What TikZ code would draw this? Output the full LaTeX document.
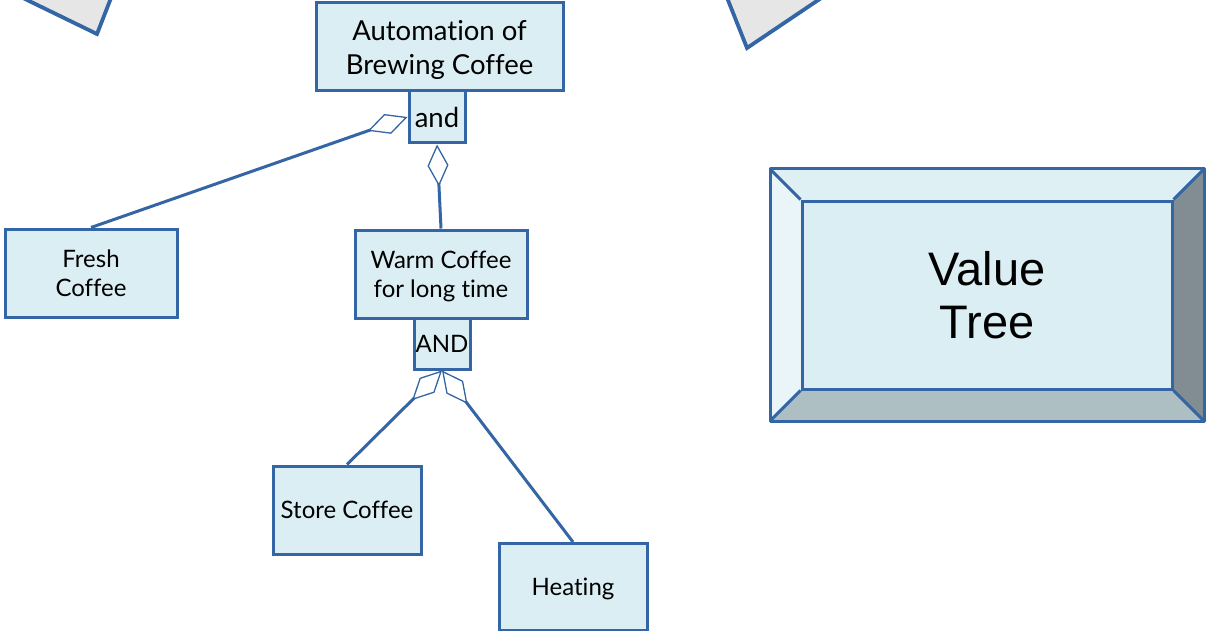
\documentclass[tikz,border=0pt]{standalone}
\usepackage{fontspec}
\setmainfont{Lato}[Ligatures={NoCommon}]
\newfontfamily\vtfont{Liberation Sans}
\usetikzlibrary{arrows.meta}
\definecolor{lineblue}{HTML}{3465A4}
\definecolor{boxfill}{HTML}{DAEEF3}
\definecolor{cornerfill}{HTML}{E6E6E6}
\definecolor{bevtop}{HTML}{DFF0F5}
\definecolor{bevleft}{HTML}{E9F5F9}
\definecolor{bevright}{HTML}{818D92}
\definecolor{bevbottom}{HTML}{ADBFC3}
\tikzset{
  goalbox/.style={draw=lineblue, fill=boxfill, line width=3pt, inner sep=0pt,
    align=center, text=black},
  bigtext/.style={font=\fontsize{27.5}{34}\selectfont},
  smalltext/.style={font=\fontsize{24}{29}\selectfont},
  conn/.style={draw=lineblue, line width=3pt,
    -{Diamond[open, length=42pt, width=21pt, line width=1.3pt]}},
  corner/.style={draw=lineblue, fill=cornerfill, line width=3.8pt, line join=miter},
  bevel/.style={draw=lineblue, line width=3pt, line join=round}
}
\begin{document}
\begin{tikzpicture}[x=1pt, y=-1pt]
\useasboundingbox (0,0) rectangle (1206,631);
\clip (0,0) rectangle (1206,631);

% partially visible corner shapes along the top edge
\path[corner] (-14,-20) -- (97,34) -- (118,-20) -- cycle;
\path[corner] (720,-20) -- (747,48) -- (848,-20) -- cycle;

% goal tree boxes
\node[goalbox, bigtext, text depth=0pt, minimum width=247pt, minimum height=88pt] (auto) at (439.5,47)
  {Automation of\\Brewing Coffee};
\node[goalbox, bigtext, minimum width=56pt, minimum height=52pt] (and) at (437,117) {and};
\node[goalbox, smalltext, minimum width=172pt, minimum height=88pt] (fresh) at (91,273)
  {Fresh\\Coffee};
\node[goalbox, smalltext, text depth=0pt, minimum width=172pt, minimum height=88pt] (warm) at (441,274)
  {Warm Coffee\\for long time};
\node[goalbox, smalltext, minimum width=56pt, minimum height=51pt] (AND) at (442,343.5) {AND};
\node[goalbox, smalltext, text depth=0pt, minimum width=148pt, minimum height=88pt] (store) at (347,510)
  {Store Coffee};
\node[goalbox, smalltext, text depth=0pt, minimum width=148pt, minimum height=87pt] (heat) at (573,587)
  {Heating};

% aggregation connectors
\draw[conn] (fresh.north) -- (and.west);
\draw[conn] (warm.north) -- (and.south);
\draw[conn] (store.north) -- (AND.south);
\draw[conn] (heat.north) -- (AND.south);

% bevelled title plate
\fill[bevtop] (770,169) -- (1204,169) -- (1172,201) -- (802,201) -- cycle;
\fill[bevleft] (770,169) -- (802,201) -- (802,389) -- (770,421) -- cycle;
\fill[bevright] (1204,169) -- (1204,421) -- (1172,389) -- (1172,201) -- cycle;
\fill[bevbottom] (770,421) -- (1204,421) -- (1172,389) -- (802,389) -- cycle;
\node[draw=lineblue, fill=boxfill, line width=3pt, minimum width=370pt, minimum height=188pt,
  inner sep=0pt, align=center, font=\vtfont\fontsize{47}{53}\selectfont] (title) at (987,295)
  {Value\\Tree};
\draw[bevel] (770,169) rectangle (1204,421);
\draw[bevel] (770,169) -- (title.north west);
\draw[bevel] (1204,169) -- (title.north east);
\draw[bevel] (770,421) -- (title.south west);
\draw[bevel] (1204,421) -- (title.south east);
\end{tikzpicture}
\end{document}
